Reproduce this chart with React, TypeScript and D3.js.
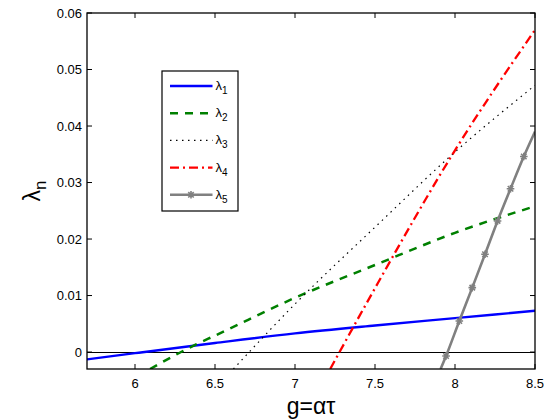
import React from "react";
import * as d3 from "d3";

const G1 = [5.7, 6.0, 6.5, 7.0, 7.5, 8.0, 8.5];
const L1 = [-0.0013, -0.0002, 0.0016, 0.0033, 0.0047, 0.006, 0.0073];
const G2 = [6.094, 6.385, 6.5, 7.0, 7.5, 8.0, 8.5];
const L2 = [-0.003, 0.0014, 0.0029, 0.0096, 0.0154, 0.0211, 0.0258];
const G3 = [6.615, 7.0, 7.5, 8.0, 8.5];
const L3 = [-0.003, 0.0085, 0.0221, 0.0354, 0.0472];
const G4 = [7.22, 7.5, 8.0, 8.5];
const L4 = [-0.003, 0.0113, 0.0357, 0.057];
const G5 = [7.91, 7.944, 8.027, 8.108, 8.1875, 8.266, 8.347, 8.43, 8.5];
const L5 = [-0.003, -0.0007, 0.0055, 0.0114, 0.0173, 0.0232, 0.0289, 0.0346, 0.039];
const M5 = [false, true, true, true, true, true, true, true, false];

const X_TICKS = [6, 6.5, 7, 7.5, 8, 8.5];
const Y_TICKS = [0, 0.01, 0.02, 0.03, 0.04, 0.05, 0.06];
const SERIES_LABELS = ["1", "2", "3", "4", "5"];

const W = 545, H = 420;
const M = { left: 87, right: 10, top: 13, bottom: 51 };
const FONT = "'Liberation Sans', Arial, Helvetica, sans-serif";

const x = d3.scaleLinear().domain([5.7, 8.5]).range([M.left, W - M.right]);
const y = d3.scaleLinear().domain([-0.003, 0.06]).range([H - M.bottom, M.top]);

const styles = [
  { color: "#0000ff", width: 2.4, dash: "" },
  { color: "#008000", width: 2.5, dash: "8,7" },
  { color: "#000000", width: 1.2, dash: "1.5,4.5" },
  { color: "#ff0000", width: 2.3, dash: "9,4,2,4" },
  { color: "#808080", width: 2.6, dash: "" },
];

function star(cx: number, cy: number, r: number) {
  const d = r * 0.72;
  return `M${cx - r},${cy}L${cx + r},${cy}M${cx},${cy - r}L${cx},${cy + r}M${cx - d},${cy - d}L${cx + d},${cy + d}M${cx - d},${cy + d}L${cx + d},${cy - d}`;
}

export default function App() {
  const line = d3
    .line<[number, number]>()
    .x((d) => x(d[0]))
    .y((d) => y(d[1]))
    .curve(d3.curveMonotoneX);
  const data: [number, number][][] = [
    G1.map((g, i) => [g, L1[i]]),
    G2.map((g, i) => [g, L2[i]]),
    G3.map((g, i) => [g, L3[i]]),
    G4.map((g, i) => [g, L4[i]]),
    G5.map((g, i) => [g, L5[i]]),
  ];
  const x0 = x.range()[0], x1 = x.range()[1];
  const y0 = y.range()[0], y1 = y.range()[1];
  const tl = 5;
  const lg = { x: 162, y: 71, w: 76, h: 140 };
  return (
    <svg width={W} height={H} style={{ position: "absolute", left: 0, top: 0, background: "#fff" }} fontFamily={FONT}>
      <defs>
        <clipPath id="plot">
          <rect x={x0} y={y1} width={x1 - x0} height={y0 - y1} />
        </clipPath>
      </defs>
      <rect x={0} y={0} width={W} height={H} fill="#fff" />
      <line x1={x0} x2={x1} y1={Math.round(y(0)) + 0.5} y2={Math.round(y(0)) + 0.5} stroke="#000" strokeWidth={1} />
      <g clipPath="url(#plot)">
        {data.map((d, i) => (
          <path key={i} d={line(d) || ""} fill="none" stroke={styles[i].color} strokeWidth={styles[i].width}
            strokeDasharray={styles[i].dash || undefined} />
        ))}
        {G5.map((g, i) => M5[i] ? (
          <path key={"m" + i} d={star(x(g), y(L5[i]), 3.8)} stroke="#808080" strokeWidth={1.6} fill="none" />
        ) : null)}
      </g>
      <rect x={x0} y={y1} width={x1 - x0} height={y0 - y1} fill="none" stroke="#000" strokeWidth={1.3} />
      {X_TICKS.map((t) => (
        <g key={"x" + t}>
          <line x1={x(t)} x2={x(t)} y1={y0} y2={y0 - tl} stroke="#000" />
          <line x1={x(t)} x2={x(t)} y1={y1} y2={y1 + tl} stroke="#000" />
          <text x={x(t)} y={388} fontSize={13} textAnchor="middle" fill="#000">{String(t)}</text>
        </g>
      ))}
      {Y_TICKS.map((t) => (
        <g key={"y" + t}>
          <line x1={x0} x2={x0 + tl} y1={y(t)} y2={y(t)} stroke="#000" />
          <line x1={x1} x2={x1 - tl} y1={y(t)} y2={y(t)} stroke="#000" />
          <text x={82} y={y(t)} dy="0.35em" fontSize={13} textAnchor="end" fill="#000">{t === 0 ? "0" : t.toFixed(2)}</text>
        </g>
      ))}
      <text x={(x0 + x1) / 2} y={414} fontSize={23} textAnchor="middle" fill="#000">g=ατ</text>
      <text transform={`translate(40,${(y0 + y1) / 2}) rotate(-90)`} fontSize={23} textAnchor="middle" fill="#000">
        λ<tspan fontSize={17} dy={6}>n</tspan>
      </text>
      <rect x={lg.x} y={lg.y} width={lg.w} height={lg.h} fill="#fff" stroke="#000" strokeWidth={1.2} />
      {SERIES_LABELS.map((s, i) => {
        const cy = 86 + i * 27.2;
        return (
          <g key={"l" + i}>
            <line x1={170} x2={212.5} y1={cy} y2={cy} stroke={styles[i].color} strokeWidth={styles[i].width}
              strokeDasharray={styles[i].dash || undefined} />
            {i === 4 ? <path d={star(191, cy, 3.8)} stroke="#808080" strokeWidth={1.6} fill="none" /> : null}
            <text x={215.5} y={cy + 4} fontSize={13} fill="#000">
              λ<tspan fontSize={10} dy={4}>{s}</tspan>
            </text>
          </g>
        );
      })}
    </svg>
  );
}
